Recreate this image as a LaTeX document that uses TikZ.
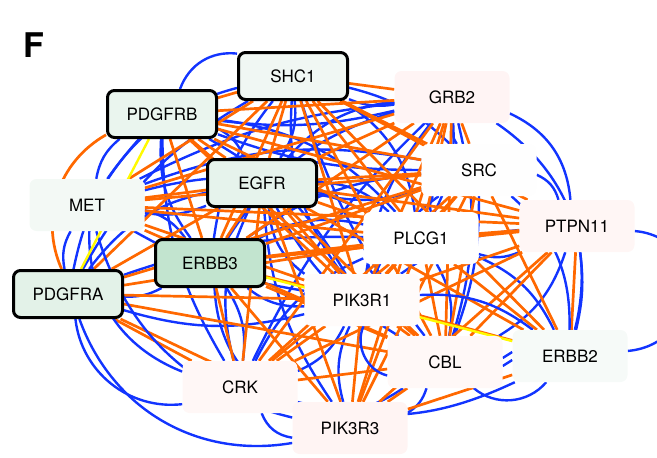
\documentclass[tikz,border=0pt]{standalone}
\usepackage{fontspec}
\setmainfont{TeX Gyre Heros}
\usetikzlibrary{backgrounds}
\definecolor{eorange}{RGB}{255,104,0}
\definecolor{eblue}{RGB}{18,52,255}
\definecolor{eyellow}{RGB}{255,250,0}
\definecolor{cSHC}{HTML}{F0F7F3}
\definecolor{cPDGFRB}{HTML}{EAF5EE}
\definecolor{cEGFR}{HTML}{E6F3EC}
\definecolor{cERBB3}{HTML}{C2E4CF}
\definecolor{cPDGFRA}{HTML}{E3F2E8}
\definecolor{cMET}{HTML}{F3F9F5}
\definecolor{cGRB}{HTML}{FFF4F4}
\definecolor{cSRC}{HTML}{FEFEFE}
\definecolor{cPTP}{HTML}{FFF6F5}
\definecolor{cPIKa}{HTML}{FFFBFA}
\definecolor{cCBL}{HTML}{FFF8F7}
\definecolor{cERBBb}{HTML}{F6FAF8}
\definecolor{cCRK}{HTML}{FFF7F6}
\definecolor{cPIKb}{HTML}{FFF4F3}
\tikzset{
  genebox/.style={rounded corners=7pt, inner sep=0pt, text=black,
    font=\fontsize{17}{20}\selectfont},
  hub/.style={genebox, draw=black, line width=3pt, minimum width=109pt, minimum height=47pt},
  plainbox/.style={genebox, minimum width=115pt, minimum height=52pt},
  oedge/.style={draw=eorange, line width=2.7pt},
  bedge/.style={draw=eblue, line width=2.4pt},
  yedge/.style={draw=eyellow, line width=2.4pt},
}
\begin{document}
\begin{tikzpicture}[x=1pt,y=1pt]
\useasboundingbox (0,0) rectangle (657,-458);
\node[font=\fontsize{34}{36}\selectfont\bfseries, anchor=center] (lab) at (34,-45) {F};

\node[hub, fill=cSHC] (shc) at (293,-76) {SHC1};
\node[hub, fill=cPDGFRB] (pdgfrb) at (162,-114) {PDGFRB};
\node[hub, fill=cEGFR] (egfr) at (262,-183) {EGFR};
\node[hub, fill=cERBB3] (erbb3) at (210,-263) {ERBB3};
\node[hub, fill=cPDGFRA] (pdgfra) at (68,-294) {PDGFRA};
\node[plainbox, fill=cMET] (met) at (87,-205) {MET};
\node[plainbox, fill=cGRB] (grb) at (452,-97) {GRB2};
\node[plainbox, fill=cSRC] (src) at (479,-170) {SRC};
\node[plainbox, fill=cPTP] (ptp) at (577,-226) {PTPN11};
\node[plainbox, fill=white] (plc) at (421,-238) {PLCG1};
\node[plainbox, fill=cPIKa] (pika) at (362,-300) {PIK3R1};
\node[plainbox, fill=cCBL] (cbl) at (445,-362) {CBL};
\node[plainbox, fill=cERBBb] (erbbb) at (570,-356) {ERBB2};
\node[plainbox, fill=cCRK] (crk) at (240,-387) {CRK};
\node[plainbox, fill=cPIKb] (pikb) at (350,-428) {PIK3R3};

\begin{pgfonlayer}{background}
% inner blue curved edges
\foreach \a/\b/\c in {
 shc/egfr/20, shc/erbb3/-15, shc/grb/-15, shc/src/15, shc/plc/25, shc/pika/-20,
 shc/met/-20, shc/pdgfra/-15, pdgfrb/egfr/20, pdgfrb/grb/-10, pdgfrb/src/-10,
 pdgfrb/plc/20, pdgfrb/erbb3/-20, pdgfrb/pika/15, egfr/grb/20, egfr/src/-15,
 egfr/plc/20, egfr/pika/-25, egfr/crk/-20, egfr/cbl/-15, egfr/met/15,
 egfr/pdgfra/-20, erbb3/grb/20, erbb3/src/15, erbb3/plc/20, erbb3/pika/-20,
 erbb3/crk/20, erbb3/met/-20, erbb3/pdgfra/15, met/grb/10, met/src/15,
 met/plc/20, pdgfra/plc/10, pdgfra/pika/-15, grb/src/-20, grb/plc/15,
 grb/pika/-15, grb/cbl/15, src/plc/-20, src/pika/-15, src/cbl/10,
 src/ptp/25, plc/ptp/-20, plc/pika/-20, plc/cbl/20, plc/erbbb/20,
 plc/crk/-20, pika/crk/20, pika/pikb/-20, pika/ptp/15, ptp/cbl/20,
 crk/pikb/-30, crk/cbl/-25, cbl/pikb/20, egfr/pikb/-15, erbb3/pikb/-30,
 grb/crk/-10, shc/cbl/-10, pdgfrb/crk/-15, met/pika/-10}
 { \draw[bedge] (\a) to[bend left=\c] (\b); }
% orange straight edges
\foreach \a/\b in {
 shc/pdgfrb, shc/egfr, shc/erbb3, shc/pdgfra, shc/met, shc/grb, shc/src,
 shc/plc, shc/pika, shc/cbl, shc/erbbb, shc/ptp,
 pdgfrb/egfr, pdgfrb/erbb3, pdgfrb/grb, pdgfrb/src, pdgfrb/plc, pdgfrb/pika,
 pdgfrb/ptp, pdgfrb/cbl,
 egfr/grb, egfr/src, egfr/plc, egfr/pika, egfr/ptp, egfr/cbl, egfr/crk,
 egfr/pikb, egfr/erbb3, egfr/pdgfra, egfr/met, egfr/erbbb,
 erbb3/grb, erbb3/src, erbb3/plc, erbb3/pika, erbb3/cbl, erbb3/ptp,
 erbb3/pikb, erbb3/crk,
 pdgfra/src, pdgfra/plc, pdgfra/pika, pdgfra/cbl, pdgfra/crk, pdgfra/pikb,
 met/grb, met/src, met/plc, met/ptp, met/pika, met/cbl,
 grb/src, grb/plc, grb/pika, grb/cbl, grb/crk, grb/pikb,
 src/plc, src/pika, src/crk, src/pikb, src/cbl, src/erbbb,
 ptp/plc, ptp/pika, ptp/cbl, ptp/erbbb, ptp/pikb, ptp/crk,
 plc/pika, plc/cbl, plc/crk, plc/pikb, plc/erbbb,
 pika/cbl, pika/crk, pika/pikb, pika/erbbb,
 cbl/crk, cbl/pikb, erbbb/pikb, crk/pikb}
 { \draw[oedge] (\a) -- (\b); }
\draw[oedge] (pdgfrb) to[bend right=42] (pdgfra);
% outer blue edges
\draw[bedge] (pdgfrb) to[bend left=38] (shc);
\draw[bedge] (pdgfrb) to[bend right=15] (pdgfra);
\draw[bedge] (pdgfrb) to[bend right=20] (met);
\draw[bedge] (met) to[bend right=20] (pdgfra);
\draw[bedge] (pdgfra) to[bend right=45] (crk);
\draw[bedge] (pdgfra) to[bend right=40] (pikb);
\draw[bedge] (met) to[bend right=35] (crk);
\draw[bedge] (met) to[bend right=30] (pikb);
\draw[bedge] (grb) to[bend left=35] (erbbb);
\draw[bedge] (grb) to[bend left=30] (ptp);
\draw[bedge] (src) to[bend left=25] (erbbb);
\draw[bedge] (ptp) to[out=-5,in=5,looseness=1.6] (erbbb);
\draw[bedge] (ptp) to[bend left=10] (erbbb);
\draw[bedge] (cbl) to[bend right=45] (erbbb);
\draw[bedge] (pika) to[bend left=20] (erbbb);
\draw[bedge] (pika) to[bend right=50] (cbl);
\draw[bedge] (crk) to[bend right=20] (erbbb);
\draw[bedge] ([yshift=4pt]cbl.east) -- ([yshift=4pt]erbbb.west);
\draw[bedge] ([yshift=-4pt]cbl.east) -- ([yshift=-4pt]erbbb.west);
% yellow edges
\draw[yedge] (pdgfrb) -- (pdgfra);
\draw[yedge] (erbb3) -- (erbbb);
\end{pgfonlayer}
\end{tikzpicture}
\end{document}
